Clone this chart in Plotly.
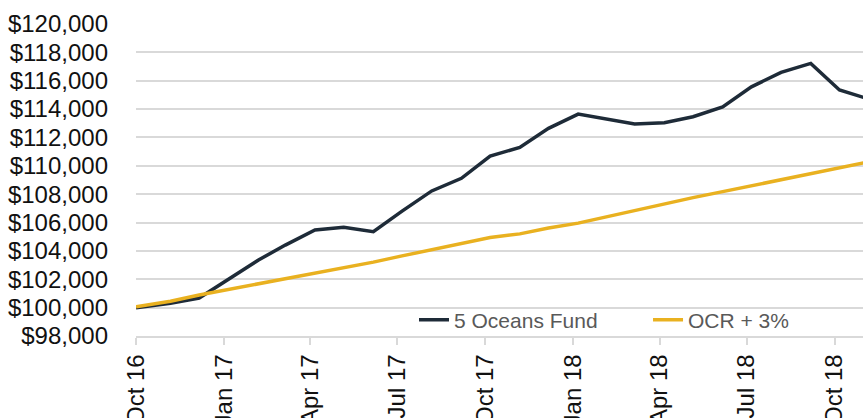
import plotly.graph_objects as go

dates = ["2016-10-01", "2016-11-06", "2016-12-06", "2017-01-06", "2017-02-06", "2017-03-06",
         "2017-04-06", "2017-05-06", "2017-06-06", "2017-07-06", "2017-08-06", "2017-09-06",
         "2017-10-06", "2017-11-06", "2017-12-06", "2018-01-06", "2018-02-06", "2018-03-06",
         "2018-04-06", "2018-05-06", "2018-06-06", "2018-07-06", "2018-08-06", "2018-09-06",
         "2018-10-06", "2018-11-06"]

fund = [100000, 100300, 100680, 102040, 103360, 104410,
        105470, 105660, 105350, 106800, 108230, 109120,
        110680, 111300, 112640, 113650, 113300, 112950,
        113040, 113460, 114160, 115570, 116590, 117220,
        115350, 114700]

ocr = [100060, 100450, 100890, 101280, 101690, 102000,
       102420, 102790, 103210, 103650, 104080, 104510,
       104940, 105200, 105610, 105960, 106430, 106880,
       107300, 107760, 108180, 108600, 109020, 109450,
       109870, 110290]

names = ["5 Oceans Fund", "OCR + 3%"]
colors = ["#1E2B38", "#E9B120"]

fig = go.Figure()
fig.add_trace(go.Scatter(x=dates, y=fund, mode="lines", name=names[0], legend="legend",
                         line=dict(color=colors[0], width=3.5)))
fig.add_trace(go.Scatter(x=dates, y=ocr, mode="lines", name=names[1], legend="legend2",
                         line=dict(color=colors[1], width=3.5)))

legend_style = dict(orientation="h", xanchor="left", y=0.051, yanchor="middle",
                    bgcolor="rgba(0,0,0,0)", font=dict(size=21, color="#595959"))

fig.update_layout(
    width=863, height=418,
    margin=dict(l=136, r=0, t=24, b=82),
    paper_bgcolor="white", plot_bgcolor="white",
    font=dict(family="Liberation Sans, Arial, sans-serif", size=24, color="#111111"),
    showlegend=True,
    legend=dict(x=0.3824, **legend_style),
    legend2=dict(x=0.7043, **legend_style),
)
fig.update_xaxes(
    type="date", range=["2016-10-01", "2018-10-30 14:00"], automargin=False,
    tick0="2016-10-01", dtick="M3", tickformat="%b %y", tickangle=-90,
    showgrid=False, showline=True, linecolor="#D9D9D9", linewidth=1.5,
    ticks="outside", ticklen=7, tickcolor="#D9D9D9", tickwidth=1.5,
    ticklabelstandoff=0, tickfont=dict(size=24, color="#111111"),
)
fig.update_yaxes(
    range=[98000, 120000], dtick=2000, tick0=98000, automargin=False,
    tickprefix="$", tickformat=",.0f",
    showgrid=True, gridcolor="#D9D9D9", gridwidth=1.5, zeroline=False,
    showline=False, ticks="", ticklabelstandoff=27,
    tickfont=dict(size=24, color="#111111"),
)

# remove the browser's default page margin so the 863x418 figure fills the window exactly
fig.write_html("out.html",
               config={"displayModeBar": False},
               post_script="document.body.style.margin='0';document.body.style.overflow='hidden';")
